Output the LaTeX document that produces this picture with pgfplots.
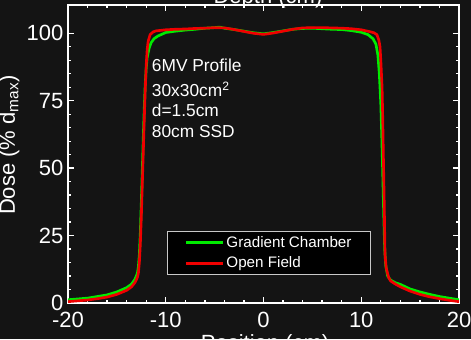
\documentclass[border=0pt]{standalone}
\usepackage{fontspec}
\setmainfont{Liberation Sans}
\usepackage{pgfplots}
\pgfplotsset{compat=1.18}
\definecolor{bg}{RGB}{20,20,20}
\definecolor{lgreen}{RGB}{0,235,0}
\definecolor{lred}{RGB}{240,0,0}
\definecolor{lborder}{RGB}{200,200,200}
\begin{document}
\begin{tikzpicture}
\fill[bg] (0,0) rectangle (353.25pt,254.25pt);
\useasboundingbox (0,0) rectangle (353.25pt,254.25pt);
\begin{axis}[
  at={(51pt,27pt)}, anchor=south west,
  scale only axis, width=293.25pt, height=223.5pt,
  xmin=-20, xmax=20, ymin=0, ymax=110.5,
  xtick={-20,-10,0,10,20}, ytick={0,25,50,75,100},
  minor x tick num=4, minor y tick num=4,
  tick align=inside,
  major tick length=4.5pt, minor tick length=2.3pt,
  axis line style={white, line width=1.5pt},
  tick style={white, line width=1pt},
  ticklabel style={font=\fontsize{16.5}{19}\selectfont, text=white},
  xticklabel style={yshift=-3pt},
  /pgf/number format/assume math mode=true,
  title={Depth (cm)},
  title style={at={(0.5115,1)}, anchor=base, yshift=-4.6pt, font=\fontsize{16.5}{19}\selectfont, text=white},
  xlabel={Position (cm)},
  xlabel style={at={(0.504,0)}, anchor=base, yshift=-35.9pt, font=\fontsize{16.5}{19}\selectfont, text=white},
  ylabel={Dose (\% d\textsubscript{max})},
  ylabel style={at={(-0.1356,0.53)}, anchor=base, font=\fontsize{16.5}{19}\selectfont, text=white},
  legend style={at={(0.253,0.2416)}, anchor=north west, fill=black, draw=lborder, line width=0.8pt,
    text=white, font=\fontsize{11.4}{13}\selectfont, inner xsep=13pt, inner ysep=2pt,
    nodes={inner sep=1.5pt}, row sep=2.7pt},
  legend cell align=left,
  legend image code/.code={\draw[#1] (0pt,0pt) -- (27.75pt,0pt);},
]
\addplot[lgreen, line width=2pt] table {
-20 1.2
-19 1.5
-18 1.8
-17 2.4
-16 3.0
-15 4.1
-14 5.7
-13.5 7.0
-13.15 8.8
-12.9 11
-12.8 13.5
-12.7 18
-12.6 26
-12.5 37
-12.4 49
-12.3 61
-12.2 72
-12.1 81
-12.0 87
-11.9 91
-11.7 94.5
-11.5 96.5
-11.2 98
-10.8 99
-10 100.3
-9 100.8
-8 101.2
-7 101.5
-6 101.9
-5 102.1
-4.5 102.3
-4 101.9
-3 101.4
-2 100.8
-1 100.2
0 99.8
1 100.3
2 100.9
3 101.5
4 101.8
5 101.9
6 101.7
7 101.5
8 101.4
9 101.0
10 100.4
10.7 99.5
11.2 98
11.5 96
11.7 92
11.85 85
12.0 74
12.1 62
12.2 48
12.3 33
12.4 20
12.5 14
12.7 10
13.0 8.5
13.5 7.5
14 6.9
15 5.2
16 4.1
17 3.2
18 2.4
19 1.8
20 1.2
};
\addlegendentry{Gradient Chamber}
\addplot[lred, line width=2pt] table {
-20 0.5
-19 0.8
-18 1.1
-17 1.6
-16 2.2
-15 3.2
-14 4.7
-13.5 6.0
-13.15 7.6
-12.9 9.5
-12.8 11
-12.7 15
-12.6 22
-12.5 32
-12.4 44
-12.3 56
-12.2 68
-12.1 79
-12.0 88
-11.9 94
-11.8 97
-11.6 99.5
-11.3 100.5
-11 100.9
-10 101.3
-9 101.5
-8 101.6
-7 101.8
-6 101.9
-5 102.1
-4 102.0
-3 101.4
-2 100.7
-1 100.0
0 99.6
1 100.1
2 100.8
3 101.5
4 102.0
5 102.1
6 102.1
7 102.0
8 101.9
9 101.7
10 101.3
10.9 100.6
11.3 100.2
11.6 99.5
11.8 97.5
11.92 95
12.0 90
12.13 80
12.2 68
12.26 55
12.35 37
12.43 18
12.55 13
12.8 9.5
13.0 8.2
13.5 7.0
14 6.0
15 4.4
16 3.2
17 2.3
18 1.6
19 1.0
20 0.5
};
\addlegendentry{Open Field}
\node[anchor=base west, text=white, font=\fontsize{13}{15}\selectfont, inner sep=0pt] at (axis cs:-11.44,86.0) {6MV Profile};
\node[anchor=base west, text=white, font=\fontsize{13}{15}\selectfont, inner sep=0pt] at (axis cs:-11.44,76.7) {30x30cm\textsuperscript{2}};
\node[anchor=base west, text=white, font=\fontsize{13}{15}\selectfont, inner sep=0pt] at (axis cs:-11.44,69.3) {d=1.5cm};
\node[anchor=base west, text=white, font=\fontsize{13}{15}\selectfont, inner sep=0pt] at (axis cs:-11.44,61.2) {80cm SSD};
\end{axis}
\end{tikzpicture}
\end{document}
